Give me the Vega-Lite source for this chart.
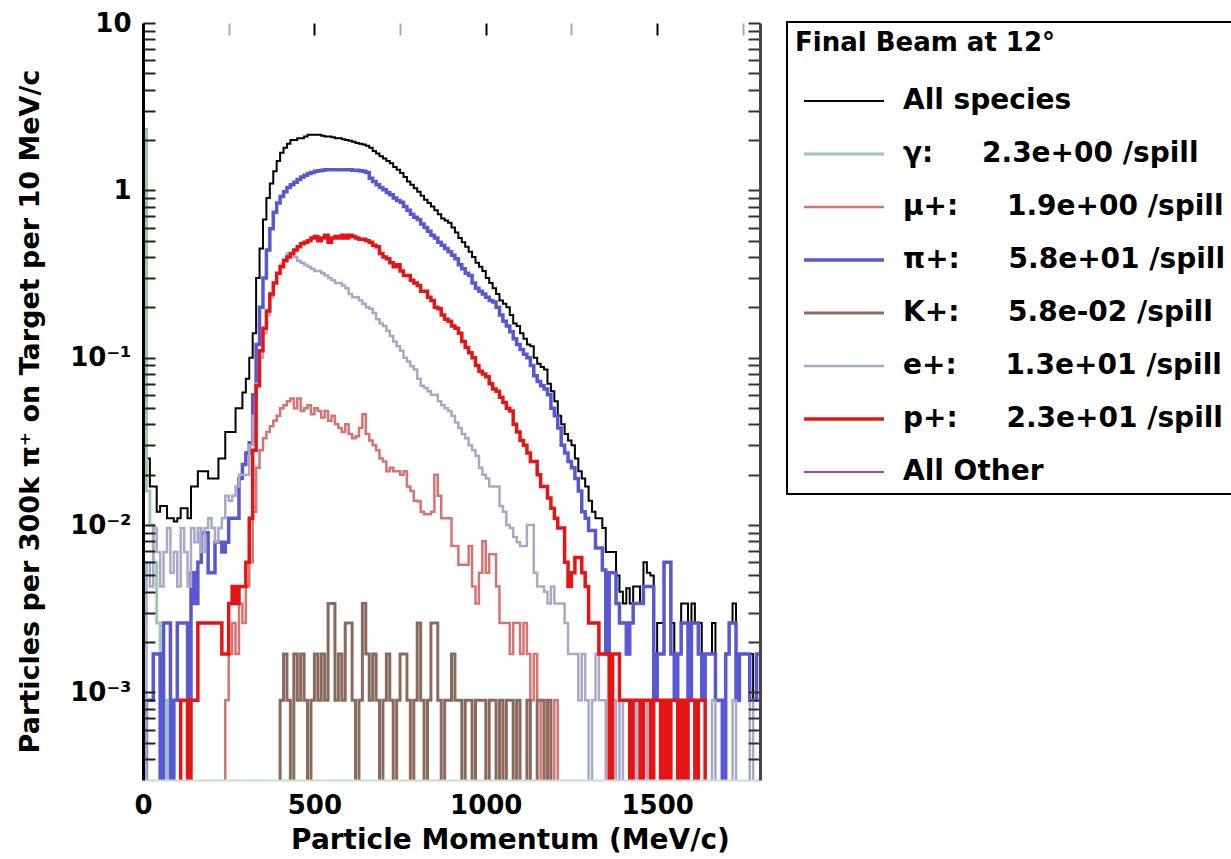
{
"$schema":"https://vega.github.io/schema/vega-lite/v6.json",
"width":617,"height":757,
"autosize":{"type":"none"},
"padding":{"left":143,"top":23,"right":471,"bottom":79},
"background":"white",
"config":{"font":"DejaVu Sans","view":{"stroke":null},"axis":{"grid":false,"labelColor":"black","titleColor":"black","labelFont":"DejaVu Sans","titleFont":"DejaVu Sans","labelFontWeight":"bold","titleFontWeight":"bold"},"legend":{"strokeWidth":2}},
"data":{"values":[
{"p":0,"all":2.32,"g":2.3,"mu":1e-4,"pi":1e-4,"k":1e-4,"e":1e-4,"pr":1e-4},
{"p":10,"all":0.025,"g":0.016,"mu":1e-4,"pi":0.0009,"k":1e-4,"e":0.006,"pr":1e-4},
{"p":20,"all":0.017,"g":0.01,"mu":1e-4,"pi":0.0009,"k":1e-4,"e":0.0043,"pr":1e-4},
{"p":30,"all":0.017,"g":0.006,"mu":1e-4,"pi":0.0017,"k":1e-4,"e":0.0096,"pr":1e-4},
{"p":40,"all":0.012,"g":0.0026,"mu":1e-4,"pi":0.0017,"k":1e-4,"e":0.0069,"pr":1e-4},
{"p":50,"all":0.013,"g":0.0017,"mu":1e-4,"pi":1e-4,"k":1e-4,"e":0.0043,"pr":1e-4},
{"p":60,"all":0.013,"g":0.0009,"mu":1e-4,"pi":0.0026,"k":1e-4,"e":0.0069,"pr":1e-4},
{"p":70,"all":0.011,"g":1e-4,"mu":1e-4,"pi":0.0026,"k":1e-4,"e":0.0096,"pr":1e-4},
{"p":80,"all":0.011,"g":1e-4,"mu":1e-4,"pi":1e-4,"k":1e-4,"e":0.0052,"pr":1e-4},
{"p":90,"all":0.0105,"g":1e-4,"mu":1e-4,"pi":0.0009,"k":1e-4,"e":0.0069,"pr":1e-4},
{"p":100,"all":0.011,"g":1e-4,"mu":1e-4,"pi":0.0026,"k":1e-4,"e":0.0043,"pr":1e-4},
{"p":110,"all":0.0126,"g":1e-4,"mu":1e-4,"pi":0.0026,"k":1e-4,"e":0.0096,"pr":0.0009},
{"p":120,"all":0.0126,"g":1e-4,"mu":1e-4,"pi":0.0026,"k":1e-4,"e":0.0069,"pr":0.0009},
{"p":130,"all":0.011,"g":1e-4,"mu":1e-4,"pi":0.0009,"k":1e-4,"e":0.0043,"pr":1e-4},
{"p":140,"all":0.017,"g":1e-4,"mu":1e-4,"pi":0.0052,"k":1e-4,"e":0.0096,"pr":0.0009},
{"p":150,"all":0.017,"g":1e-4,"mu":1e-4,"pi":0.0034,"k":1e-4,"e":0.0079,"pr":0.0009},
{"p":160,"all":0.021,"g":1e-4,"mu":1e-4,"pi":0.006,"k":1e-4,"e":0.0096,"pr":0.0026},
{"p":170,"all":0.021,"g":1e-4,"mu":1e-4,"pi":0.009,"k":1e-4,"e":0.0069,"pr":0.0026},
{"p":180,"all":0.021,"g":1e-4,"mu":1e-4,"pi":0.009,"k":1e-4,"e":0.0096,"pr":0.0026},
{"p":190,"all":0.019,"g":1e-4,"mu":1e-4,"pi":0.0052,"k":1e-4,"e":0.011,"pr":0.0026},
{"p":200,"all":0.019,"g":1e-4,"mu":1e-4,"pi":0.0052,"k":1e-4,"e":0.0096,"pr":0.0026},
{"p":210,"all":0.019,"g":1e-4,"mu":1e-4,"pi":0.0079,"k":1e-4,"e":0.0079,"pr":0.0026},
{"p":220,"all":0.025,"g":1e-4,"mu":1e-4,"pi":0.0079,"k":1e-4,"e":0.0096,"pr":0.0026},
{"p":230,"all":0.025,"g":1e-4,"mu":1e-4,"pi":0.0069,"k":1e-4,"e":0.011,"pr":0.0017},
{"p":240,"all":0.036,"g":1e-4,"mu":0.0009,"pi":0.0079,"k":1e-4,"e":0.015,"pr":0.0017},
{"p":250,"all":0.036,"g":1e-4,"mu":0.0017,"pi":0.011,"k":1e-4,"e":0.014,"pr":0.0034},
{"p":260,"all":0.036,"g":1e-4,"mu":0.0026,"pi":0.011,"k":1e-4,"e":0.015,"pr":0.0043},
{"p":270,"all":0.05,"g":1e-4,"mu":0.0017,"pi":0.011,"k":1e-4,"e":0.017,"pr":0.0034},
{"p":280,"all":0.05,"g":1e-4,"mu":0.0034,"pi":0.019,"k":1e-4,"e":0.02,"pr":0.0043},
{"p":290,"all":0.062,"g":1e-4,"mu":0.0026,"pi":0.023,"k":1e-4,"e":0.02,"pr":0.0043},
{"p":300,"all":0.075,"g":1e-4,"mu":0.0043,"pi":0.027,"k":1e-4,"e":0.02,"pr":0.006},
{"p":310,"all":0.1,"g":1e-4,"mu":0.006,"pi":0.031,"k":1e-4,"e":0.03,"pr":0.011},
{"p":320,"all":0.14,"g":1e-4,"mu":0.012,"pi":0.06,"k":1e-4,"e":0.045,"pr":0.028},
{"p":330,"all":0.3,"g":1e-4,"mu":0.022,"pi":0.12,"k":1e-4,"e":0.07,"pr":0.068},
{"p":340,"all":0.45,"g":1e-4,"mu":0.028,"pi":0.2,"k":1e-4,"e":0.1,"pr":0.11},
{"p":350,"all":0.67,"g":1e-4,"mu":0.033,"pi":0.3,"k":1e-4,"e":0.14,"pr":0.15},
{"p":360,"all":0.9,"g":1e-4,"mu":0.036,"pi":0.44,"k":1e-4,"e":0.18,"pr":0.19},
{"p":370,"all":1.1,"g":1e-4,"mu":0.039,"pi":0.59,"k":1e-4,"e":0.23,"pr":0.24},
{"p":380,"all":1.3,"g":1e-4,"mu":0.042,"pi":0.74,"k":1e-4,"e":0.28,"pr":0.28},
{"p":390,"all":1.5,"g":1e-4,"mu":0.045,"pi":0.84,"k":1e-4,"e":0.32,"pr":0.32},
{"p":400,"all":1.68,"g":1e-4,"mu":0.05,"pi":0.92,"k":0.0009,"e":0.36,"pr":0.35},
{"p":410,"all":1.8,"g":1e-4,"mu":0.052,"pi":0.98,"k":0.0017,"e":0.39,"pr":0.38},
{"p":420,"all":1.9,"g":1e-4,"mu":0.055,"pi":1.04,"k":0.0009,"e":0.42,"pr":0.4},
{"p":430,"all":2.0,"g":1e-4,"mu":0.057,"pi":1.08,"k":1e-4,"e":0.42,"pr":0.42},
{"p":440,"all":2.0,"g":1e-4,"mu":0.05,"pi":1.12,"k":0.0017,"e":0.4,"pr":0.44},
{"p":450,"all":2.05,"g":1e-4,"mu":0.057,"pi":1.16,"k":0.0009,"e":0.38,"pr":0.46},
{"p":460,"all":2.05,"g":1e-4,"mu":0.048,"pi":1.2,"k":0.0017,"e":0.37,"pr":0.48},
{"p":470,"all":2.1,"g":1e-4,"mu":0.05,"pi":1.23,"k":0.0009,"e":0.36,"pr":0.49},
{"p":480,"all":2.15,"g":1e-4,"mu":0.052,"pi":1.26,"k":1e-4,"e":0.35,"pr":0.5},
{"p":490,"all":2.15,"g":1e-4,"mu":0.046,"pi":1.28,"k":0.0009,"e":0.34,"pr":0.52},
{"p":500,"all":2.15,"g":1e-4,"mu":0.05,"pi":1.3,"k":0.0017,"e":0.33,"pr":0.53},
{"p":510,"all":2.15,"g":1e-4,"mu":0.048,"pi":1.31,"k":0.0009,"e":0.33,"pr":0.5},
{"p":520,"all":2.12,"g":1e-4,"mu":0.044,"pi":1.32,"k":0.0017,"e":0.32,"pr":0.52},
{"p":530,"all":2.1,"g":1e-4,"mu":0.048,"pi":1.33,"k":0.0009,"e":0.31,"pr":0.54},
{"p":540,"all":2.1,"g":1e-4,"mu":0.042,"pi":1.33,"k":0.0034,"e":0.3,"pr":0.49},
{"p":550,"all":2.08,"g":1e-4,"mu":0.045,"pi":1.33,"k":0.0034,"e":0.29,"pr":0.52},
{"p":560,"all":2.05,"g":1e-4,"mu":0.04,"pi":1.33,"k":0.0009,"e":0.28,"pr":0.53},
{"p":570,"all":2.05,"g":1e-4,"mu":0.038,"pi":1.33,"k":0.0017,"e":0.28,"pr":0.52},
{"p":580,"all":2.02,"g":1e-4,"mu":0.036,"pi":1.33,"k":0.0009,"e":0.27,"pr":0.54},
{"p":590,"all":2.0,"g":1e-4,"mu":0.04,"pi":1.33,"k":0.0026,"e":0.26,"pr":0.52},
{"p":600,"all":1.98,"g":1e-4,"mu":0.035,"pi":1.33,"k":0.0026,"e":0.24,"pr":0.54},
{"p":610,"all":1.95,"g":1e-4,"mu":0.033,"pi":1.32,"k":0.0009,"e":0.23,"pr":0.53},
{"p":620,"all":1.92,"g":1e-4,"mu":0.034,"pi":1.32,"k":1e-4,"e":0.23,"pr":0.52},
{"p":630,"all":1.9,"g":1e-4,"mu":0.038,"pi":1.31,"k":0.0009,"e":0.22,"pr":0.51},
{"p":640,"all":1.88,"g":1e-4,"mu":0.046,"pi":1.3,"k":0.0034,"e":0.21,"pr":0.51},
{"p":650,"all":1.85,"g":1e-4,"mu":0.035,"pi":1.28,"k":0.0017,"e":0.2,"pr":0.5},
{"p":660,"all":1.8,"g":1e-4,"mu":0.032,"pi":1.18,"k":0.0009,"e":0.196,"pr":0.49},
{"p":670,"all":1.72,"g":1e-4,"mu":0.03,"pi":1.13,"k":0.0017,"e":0.185,"pr":0.47},
{"p":680,"all":1.66,"g":1e-4,"mu":0.028,"pi":1.08,"k":0.0009,"e":0.17,"pr":0.46},
{"p":690,"all":1.6,"g":1e-4,"mu":0.025,"pi":1.04,"k":1e-4,"e":0.16,"pr":0.42},
{"p":700,"all":1.55,"g":1e-4,"mu":0.024,"pi":1.01,"k":0.0009,"e":0.155,"pr":0.4},
{"p":710,"all":1.5,"g":1e-4,"mu":0.021,"pi":0.97,"k":0.0017,"e":0.145,"pr":0.39},
{"p":720,"all":1.45,"g":1e-4,"mu":0.022,"pi":0.94,"k":0.0009,"e":0.135,"pr":0.37},
{"p":730,"all":1.38,"g":1e-4,"mu":0.021,"pi":0.9,"k":1e-4,"e":0.125,"pr":0.35},
{"p":740,"all":1.33,"g":1e-4,"mu":0.021,"pi":0.87,"k":0.0009,"e":0.117,"pr":0.36},
{"p":750,"all":1.27,"g":1e-4,"mu":0.02,"pi":0.85,"k":0.0017,"e":0.11,"pr":0.33},
{"p":760,"all":1.2,"g":1e-4,"mu":0.021,"pi":0.8,"k":0.0017,"e":0.1,"pr":0.31},
{"p":770,"all":1.13,"g":1e-4,"mu":0.017,"pi":0.76,"k":0.0009,"e":0.095,"pr":0.31},
{"p":780,"all":1.08,"g":1e-4,"mu":0.016,"pi":0.72,"k":1e-4,"e":0.089,"pr":0.29},
{"p":790,"all":1.03,"g":1e-4,"mu":0.014,"pi":0.69,"k":0.0009,"e":0.085,"pr":0.28},
{"p":800,"all":0.98,"g":1e-4,"mu":0.0139,"pi":0.67,"k":0.0026,"e":0.075,"pr":0.27},
{"p":810,"all":0.93,"g":1e-4,"mu":0.012,"pi":0.63,"k":0.0009,"e":0.068,"pr":0.25},
{"p":820,"all":0.88,"g":1e-4,"mu":0.0116,"pi":0.6,"k":1e-4,"e":0.066,"pr":0.25},
{"p":830,"all":0.84,"g":1e-4,"mu":0.0116,"pi":0.57,"k":0.0009,"e":0.063,"pr":0.23},
{"p":840,"all":0.8,"g":1e-4,"mu":0.012,"pi":0.54,"k":0.0026,"e":0.06,"pr":0.22},
{"p":850,"all":0.76,"g":1e-4,"mu":0.02,"pi":0.52,"k":0.0026,"e":0.06,"pr":0.2},
{"p":860,"all":0.72,"g":1e-4,"mu":0.015,"pi":0.49,"k":0.0009,"e":0.055,"pr":0.196},
{"p":870,"all":0.68,"g":1e-4,"mu":0.011,"pi":0.47,"k":1e-4,"e":0.052,"pr":0.18},
{"p":880,"all":0.66,"g":1e-4,"mu":0.011,"pi":0.45,"k":0.0009,"e":0.05,"pr":0.17},
{"p":890,"all":0.64,"g":1e-4,"mu":0.011,"pi":0.43,"k":0.0009,"e":0.048,"pr":0.165},
{"p":900,"all":0.6,"g":1e-4,"mu":0.0075,"pi":0.41,"k":0.0017,"e":0.045,"pr":0.155},
{"p":910,"all":0.56,"g":1e-4,"mu":0.0075,"pi":0.39,"k":0.0009,"e":0.041,"pr":0.15},
{"p":920,"all":0.52,"g":1e-4,"mu":0.0058,"pi":0.36,"k":0.0009,"e":0.038,"pr":0.14},
{"p":930,"all":0.49,"g":1e-4,"mu":0.0058,"pi":0.34,"k":1e-4,"e":0.035,"pr":0.125},
{"p":940,"all":0.46,"g":1e-4,"mu":0.0058,"pi":0.32,"k":0.0009,"e":0.033,"pr":0.115},
{"p":950,"all":0.43,"g":1e-4,"mu":0.0075,"pi":0.31,"k":0.0009,"e":0.03,"pr":0.107},
{"p":960,"all":0.4,"g":1e-4,"mu":0.0043,"pi":0.28,"k":1e-4,"e":0.028,"pr":0.1},
{"p":970,"all":0.37,"g":1e-4,"mu":0.0034,"pi":0.26,"k":0.0009,"e":0.026,"pr":0.09},
{"p":980,"all":0.35,"g":1e-4,"mu":0.0052,"pi":0.25,"k":0.0009,"e":0.022,"pr":0.083},
{"p":990,"all":0.33,"g":1e-4,"mu":0.008,"pi":0.24,"k":0.0009,"e":0.02,"pr":0.08},
{"p":1000,"all":0.3,"g":1e-4,"mu":0.0052,"pi":0.23,"k":1e-4,"e":0.019,"pr":0.077},
{"p":1010,"all":0.28,"g":1e-4,"mu":0.0067,"pi":0.22,"k":0.0009,"e":0.017,"pr":0.07},
{"p":1020,"all":0.26,"g":1e-4,"mu":0.0067,"pi":0.215,"k":0.0009,"e":0.017,"pr":0.065},
{"p":1030,"all":0.24,"g":1e-4,"mu":0.0043,"pi":0.2,"k":1e-4,"e":0.017,"pr":0.063},
{"p":1040,"all":0.22,"g":1e-4,"mu":0.0026,"pi":0.18,"k":0.0009,"e":0.013,"pr":0.058},
{"p":1050,"all":0.21,"g":1e-4,"mu":0.0026,"pi":0.165,"k":1e-4,"e":0.012,"pr":0.054},
{"p":1060,"all":0.2,"g":1e-4,"mu":0.0026,"pi":0.155,"k":0.0009,"e":0.01,"pr":0.05},
{"p":1070,"all":0.18,"g":1e-4,"mu":0.0017,"pi":0.143,"k":0.0009,"e":0.0096,"pr":0.048},
{"p":1080,"all":0.16,"g":1e-4,"mu":0.0026,"pi":0.13,"k":1e-4,"e":0.0085,"pr":0.04},
{"p":1090,"all":0.155,"g":1e-4,"mu":0.0026,"pi":0.12,"k":0.0009,"e":0.0079,"pr":0.036},
{"p":1100,"all":0.14,"g":1e-4,"mu":0.0017,"pi":0.112,"k":1e-4,"e":0.0075,"pr":0.032},
{"p":1110,"all":0.13,"g":1e-4,"mu":0.0026,"pi":0.105,"k":1e-4,"e":0.0075,"pr":0.03},
{"p":1120,"all":0.12,"g":1e-4,"mu":0.0017,"pi":0.1,"k":0.0009,"e":0.01,"pr":0.027},
{"p":1130,"all":0.117,"g":1e-4,"mu":0.0009,"pi":0.09,"k":1e-4,"e":0.01,"pr":0.024},
{"p":1140,"all":0.1,"g":1e-4,"mu":0.0017,"pi":0.078,"k":1e-4,"e":0.0052,"pr":0.024},
{"p":1150,"all":0.092,"g":1e-4,"mu":0.0009,"pi":0.072,"k":0.0009,"e":0.0043,"pr":0.02},
{"p":1160,"all":0.088,"g":1e-4,"mu":1e-4,"pi":0.068,"k":0.0009,"e":0.0043,"pr":0.017},
{"p":1170,"all":0.085,"g":1e-4,"mu":0.0009,"pi":0.065,"k":1e-4,"e":0.004,"pr":0.017},
{"p":1180,"all":0.07,"g":1e-4,"mu":0.0009,"pi":0.06,"k":0.0009,"e":0.0034,"pr":0.0145},
{"p":1190,"all":0.063,"g":1e-4,"mu":1e-4,"pi":0.05,"k":1e-4,"e":0.0043,"pr":0.0126},
{"p":1200,"all":0.055,"g":1e-4,"mu":0.0009,"pi":0.045,"k":1e-4,"e":0.0034,"pr":0.011},
{"p":1210,"all":0.045,"g":1e-4,"mu":1e-4,"pi":0.038,"k":1e-4,"e":0.0034,"pr":0.0096},
{"p":1220,"all":0.04,"g":1e-4,"mu":1e-4,"pi":0.03,"k":1e-4,"e":0.0034,"pr":0.0096},
{"p":1230,"all":0.035,"g":1e-4,"mu":1e-4,"pi":0.027,"k":1e-4,"e":0.0026,"pr":0.006},
{"p":1240,"all":0.032,"g":1e-4,"mu":1e-4,"pi":0.024,"k":1e-4,"e":0.0017,"pr":0.0043},
{"p":1250,"all":0.03,"g":1e-4,"mu":1e-4,"pi":0.022,"k":1e-4,"e":0.0017,"pr":0.0052},
{"p":1260,"all":0.025,"g":1e-4,"mu":1e-4,"pi":0.019,"k":1e-4,"e":0.0017,"pr":0.0064},
{"p":1270,"all":0.021,"g":1e-4,"mu":1e-4,"pi":0.016,"k":1e-4,"e":0.0009,"pr":0.0064},
{"p":1280,"all":0.019,"g":1e-4,"mu":1e-4,"pi":0.012,"k":1e-4,"e":0.0017,"pr":0.0052},
{"p":1290,"all":0.017,"g":1e-4,"mu":1e-4,"pi":0.011,"k":1e-4,"e":0.0009,"pr":0.0043},
{"p":1300,"all":0.014,"g":1e-4,"mu":1e-4,"pi":0.0093,"k":1e-4,"e":1e-4,"pr":0.0026},
{"p":1310,"all":0.012,"g":1e-4,"mu":1e-4,"pi":0.0093,"k":1e-4,"e":0.0009,"pr":0.0026},
{"p":1320,"all":0.011,"g":1e-4,"mu":1e-4,"pi":0.0073,"k":1e-4,"e":0.0017,"pr":0.0026},
{"p":1330,"all":0.011,"g":1e-4,"mu":1e-4,"pi":0.0073,"k":1e-4,"e":0.0009,"pr":0.0017},
{"p":1340,"all":0.0096,"g":1e-4,"mu":1e-4,"pi":0.0054,"k":1e-4,"e":0.0009,"pr":0.0017},
{"p":1350,"all":0.0069,"g":1e-4,"mu":1e-4,"pi":0.0017,"k":1e-4,"e":1e-4,"pr":0.0017},
{"p":1360,"all":0.0069,"g":1e-4,"mu":1e-4,"pi":0.0052,"k":1e-4,"e":0.0009,"pr":1e-4},
{"p":1370,"all":0.0069,"g":1e-4,"mu":1e-4,"pi":0.0052,"k":1e-4,"e":0.0009,"pr":0.0017},
{"p":1380,"all":0.005,"g":1e-4,"mu":1e-4,"pi":0.0034,"k":1e-4,"e":1e-4,"pr":0.0017},
{"p":1390,"all":0.004,"g":1e-4,"mu":1e-4,"pi":0.0026,"k":1e-4,"e":0.0009,"pr":0.0009},
{"p":1400,"all":0.0034,"g":1e-4,"mu":1e-4,"pi":0.0026,"k":1e-4,"e":1e-4,"pr":0.0009},
{"p":1410,"all":0.0042,"g":1e-4,"mu":1e-4,"pi":0.0017,"k":1e-4,"e":1e-4,"pr":0.0009},
{"p":1420,"all":0.0034,"g":1e-4,"mu":1e-4,"pi":0.0026,"k":1e-4,"e":1e-4,"pr":1e-4},
{"p":1430,"all":0.0043,"g":1e-4,"mu":1e-4,"pi":0.0034,"k":1e-4,"e":0.0009,"pr":0.0009},
{"p":1440,"all":0.0043,"g":1e-4,"mu":1e-4,"pi":0.0034,"k":1e-4,"e":1e-4,"pr":0.0009},
{"p":1450,"all":0.0034,"g":1e-4,"mu":1e-4,"pi":0.0034,"k":1e-4,"e":1e-4,"pr":1e-4},
{"p":1460,"all":0.006,"g":1e-4,"mu":1e-4,"pi":0.0043,"k":1e-4,"e":1e-4,"pr":0.0009},
{"p":1470,"all":0.0052,"g":1e-4,"mu":1e-4,"pi":0.0043,"k":1e-4,"e":0.0009,"pr":0.0009},
{"p":1480,"all":0.005,"g":1e-4,"mu":1e-4,"pi":0.0043,"k":1e-4,"e":1e-4,"pr":1e-4},
{"p":1490,"all":0.0017,"g":1e-4,"mu":1e-4,"pi":0.0009,"k":1e-4,"e":1e-4,"pr":0.0009},
{"p":1500,"all":0.0026,"g":1e-4,"mu":1e-4,"pi":0.0017,"k":1e-4,"e":1e-4,"pr":0.0009},
{"p":1510,"all":0.0026,"g":1e-4,"mu":1e-4,"pi":0.0017,"k":1e-4,"e":0.0009,"pr":1e-4},
{"p":1520,"all":0.006,"g":1e-4,"mu":1e-4,"pi":0.006,"k":1e-4,"e":1e-4,"pr":0.0009},
{"p":1530,"all":0.006,"g":1e-4,"mu":1e-4,"pi":0.006,"k":1e-4,"e":1e-4,"pr":1e-4},
{"p":1540,"all":0.0026,"g":1e-4,"mu":1e-4,"pi":0.0017,"k":1e-4,"e":1e-4,"pr":0.0009},
{"p":1550,"all":0.0017,"g":1e-4,"mu":1e-4,"pi":0.0009,"k":1e-4,"e":1e-4,"pr":0.0009},
{"p":1560,"all":0.0017,"g":1e-4,"mu":1e-4,"pi":0.0017,"k":1e-4,"e":1e-4,"pr":1e-4},
{"p":1570,"all":0.0034,"g":1e-4,"mu":1e-4,"pi":0.0026,"k":1e-4,"e":1e-4,"pr":0.0009},
{"p":1580,"all":0.0034,"g":1e-4,"mu":1e-4,"pi":0.0026,"k":1e-4,"e":0.0009,"pr":1e-4},
{"p":1590,"all":0.0017,"g":1e-4,"mu":1e-4,"pi":0.0009,"k":1e-4,"e":1e-4,"pr":0.0009},
{"p":1600,"all":0.0034,"g":1e-4,"mu":1e-4,"pi":0.0026,"k":1e-4,"e":1e-4,"pr":0.0009},
{"p":1610,"all":0.0026,"g":1e-4,"mu":1e-4,"pi":0.0026,"k":1e-4,"e":1e-4,"pr":1e-4},
{"p":1620,"all":0.0026,"g":1e-4,"mu":1e-4,"pi":0.0017,"k":1e-4,"e":1e-4,"pr":0.0009},
{"p":1630,"all":0.0017,"g":1e-4,"mu":1e-4,"pi":0.0009,"k":1e-4,"e":1e-4,"pr":0.0009},
{"p":1640,"all":0.0017,"g":1e-4,"mu":1e-4,"pi":0.0017,"k":1e-4,"e":1e-4,"pr":1e-4},
{"p":1650,"all":0.0017,"g":1e-4,"mu":1e-4,"pi":0.0017,"k":1e-4,"e":1e-4,"pr":1e-4},
{"p":1660,"all":0.0026,"g":1e-4,"mu":1e-4,"pi":0.0017,"k":1e-4,"e":0.0009,"pr":1e-4},
{"p":1670,"all":0.0009,"g":1e-4,"mu":1e-4,"pi":0.0009,"k":1e-4,"e":1e-4,"pr":1e-4},
{"p":1680,"all":0.0009,"g":1e-4,"mu":1e-4,"pi":0.0009,"k":1e-4,"e":1e-4,"pr":1e-4},
{"p":1690,"all":0.0009,"g":1e-4,"mu":1e-4,"pi":1e-4,"k":1e-4,"e":1e-4,"pr":1e-4},
{"p":1700,"all":0.0017,"g":1e-4,"mu":1e-4,"pi":0.0017,"k":1e-4,"e":1e-4,"pr":1e-4},
{"p":1710,"all":0.0026,"g":1e-4,"mu":1e-4,"pi":0.0026,"k":1e-4,"e":1e-4,"pr":1e-4},
{"p":1720,"all":0.0034,"g":1e-4,"mu":1e-4,"pi":0.0026,"k":1e-4,"e":0.0009,"pr":1e-4},
{"p":1730,"all":0.0009,"g":1e-4,"mu":1e-4,"pi":0.0009,"k":1e-4,"e":1e-4,"pr":1e-4},
{"p":1740,"all":0.0017,"g":1e-4,"mu":1e-4,"pi":0.0017,"k":1e-4,"e":1e-4,"pr":1e-4},
{"p":1750,"all":0.0017,"g":1e-4,"mu":1e-4,"pi":0.0017,"k":1e-4,"e":1e-4,"pr":1e-4},
{"p":1760,"all":0.0017,"g":1e-4,"mu":1e-4,"pi":0.0017,"k":1e-4,"e":1e-4,"pr":1e-4},
{"p":1770,"all":0.0017,"g":1e-4,"mu":1e-4,"pi":0.0009,"k":1e-4,"e":0.0009,"pr":1e-4},
{"p":1780,"all":0.0009,"g":1e-4,"mu":1e-4,"pi":0.0009,"k":1e-4,"e":1e-4,"pr":1e-4},
{"p":1790,"all":0.0017,"g":1e-4,"mu":1e-4,"pi":0.0017,"k":1e-4,"e":1e-4,"pr":1e-4},
{"p":1800,"all":0.0017,"g":1e-4,"mu":1e-4,"pi":0.0017,"k":1e-4,"e":1e-4,"pr":1e-4}
]},
"transform":[{"fold":["all","g","mu","pi","k","e","pr"],"as":["s","v"]}],
"encoding":{
 "color":{"field":"s","type":"nominal",
  "scale":{"domain":["all","g","mu","pi","k","e","pr","other"],"range":["#000000","#9cc7b3","#d67474","#5858d2","#8a6a5c","#a9a9c6","#e51515","#b23cc4"]},
  "legend":{"title":"Final Beam at 12°","orient":"none","legendX":644,"legendY":-1,"direction":"vertical",
   "symbolType":"stroke","symbolSize":6400,"symbolStrokeWidth":3,"clipHeight":28,"rowPadding":25,
   "labelFont":"DejaVu Sans","labelFontWeight":"bold","labelFontSize":28,"labelColor":"black","labelLimit":800,
   "titleFont":"DejaVu Sans","titleFontWeight":"bold","titleFontSize":26,"titleColor":"black","titlePadding":31,"titleLimit":800,
   "labelOffset":17,"symbolOffset":7,"padding":8,"strokeColor":"black","fillColor":"white",
   "labelExpr":"datum.value == 'all' ? 'All species' : datum.value == 'g' ? 'γ:\u00a0\u00a0\u00a0\u00a0\u00a02.3e+00 /spill' : datum.value == 'mu' ? 'μ+:\u00a0\u00a0\u00a0\u00a0\u00a01.9e+00 /spill' : datum.value == 'pi' ? 'π+:\u00a0\u00a0\u00a0\u00a0\u00a05.8e+01 /spill' : datum.value == 'k' ? 'K+:\u00a0\u00a0\u00a0\u00a0\u00a05.8e-02 /spill' : datum.value == 'e' ? 'e+:\u00a0\u00a0\u00a0\u00a0\u00a01.3e+01 /spill' : datum.value == 'pr' ? 'p+:\u00a0\u00a0\u00a0\u00a0\u00a02.3e+01 /spill' : 'All Other'"}},
 "strokeWidth":{"field":"s","type":"nominal","scale":{"type":"ordinal","domain":["all","g","mu","pi","k","e","pr","other"],"range":[2,3,2.5,3.5,3,2.5,3.5,2]},"legend":null}
},
"layer":[
 {"transform":[{"filter":"datum.s == 'all'"}],
  "mark":{"type":"line","interpolate":"step-after","clip":true},
  "encoding":{
   "x":{"field":"p","type":"quantitative","scale":{"domain":[0,1800],"nice":false,"zero":false},
    "axis":{"orient":"bottom","values":[0,500,1000,1500],"format":"d","ticks":false,"domainColor":"#c8dcd2","domainWidth":2,"labelFontSize":26,"labelPadding":12,"labelFlush":false,"title":"Particle Momentum (MeV/c)","titleFontSize":28,"titlePadding":8,"titleX":367,"zindex":1}},
   "y":{"field":"v","type":"quantitative","scale":{"type":"log","domain":[0.0003,10],"nice":false},
    "axis":{"orient":"left","values":[0.0004,0.0005,0.0006,0.0007,0.0008,0.0009,0.001,0.002,0.003,0.004,0.005,0.006,0.007,0.008,0.009,0.01,0.02,0.03,0.04,0.05,0.06,0.07,0.08,0.09,0.1,0.2,0.3,0.4,0.5,0.6,0.7,0.8,0.9,1,2,3,4,5,6,7,8,9,10],
     "labelExpr":"datum.value == 10 ? '10' : datum.value == 1 ? '1' : datum.value == 0.1 ? '10⁻¹' : datum.value == 0.01 ? '10⁻²' : datum.value == 0.001 ? '10⁻³' : ''",
     "tickSize":-12,"tickWidth":2,"tickColor":"#222222","domainColor":"black","domainWidth":3,"labelFontSize":26,"labelPadding":24,"labelOverlap":false,"labelFlush":false,"labelBound":false,
     "title":"Particles per 300k   π⁺ on Target per 10 MeV/c","titleFontSize":27,"titleX":-113,"titleY":388,"titleBaseline":"middle","zindex":1}}
  }},
 {"transform":[{"filter":"datum.s != 'all'"}],
  "mark":{"type":"line","interpolate":"step-after","clip":true},
  "encoding":{
   "x":{"field":"p","type":"quantitative","scale":{"domain":[0,1800],"nice":false,"zero":false},
    "axis":{"orient":"top","values":[250,500,750,1000,1250,1500,1750],"labels":false,"domain":false,"tickSize":-12,"tickWidth":2,"tickColor":{"condition":{"test":"datum.value % 500 == 0","value":"black"},"value":"#aaaaaa"},"title":null}},
   "y":{"field":"v","type":"quantitative","scale":{"type":"log","domain":[0.0003,10],"nice":false},
    "axis":{"orient":"right","values":[0.0004,0.0005,0.0006,0.0007,0.0008,0.0009,0.001,0.002,0.003,0.004,0.005,0.006,0.007,0.008,0.009,0.01,0.02,0.03,0.04,0.05,0.06,0.07,0.08,0.09,0.1,0.2,0.3,0.4,0.5,0.6,0.7,0.8,0.9,1,2,3,4,5,6,7,8,9,10],"labels":false,"tickSize":-12,"tickWidth":2,"tickColor":"#333333","domainColor":"#444444","domainWidth":3,"title":null,"zindex":1}}
  }}
],
"resolve":{"axis":{"x":"independent","y":"independent"}}
}
